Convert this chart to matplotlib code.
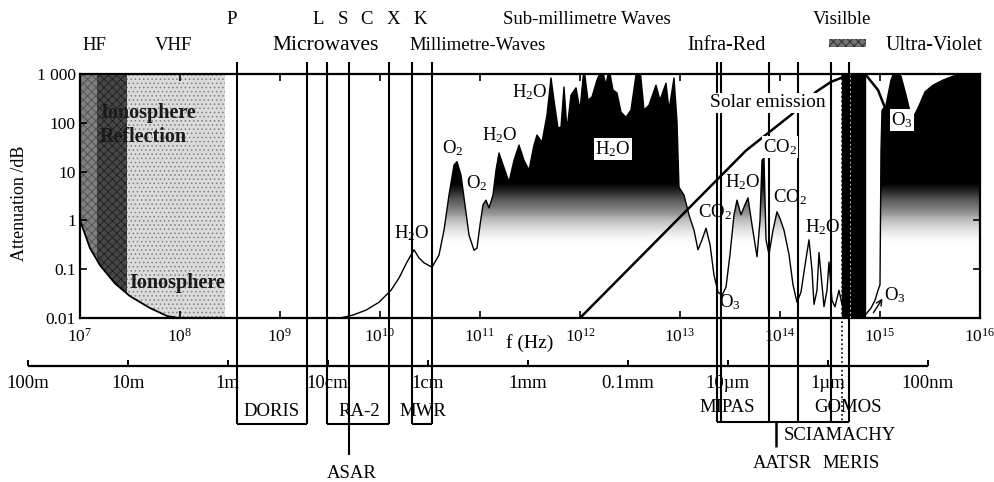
import numpy as np
import matplotlib
matplotlib.use('Agg')
import matplotlib.pyplot as plt
from matplotlib.patches import Polygon

plt.rcParams['font.family'] = 'Liberation Serif'
plt.rcParams['mathtext.fontset'] = 'custom'
plt.rcParams['mathtext.rm'] = 'Liberation Serif'
plt.rcParams['mathtext.it'] = 'Liberation Serif:italic'
plt.rcParams['mathtext.default'] = 'regular'
plt.rcParams['hatch.linewidth'] = 0.6

# atmospheric attenuation, log10(f / Hz) and dB
atm_exp = [9.60, 9.73, 9.86, 9.99, 10.11, 10.19, 10.27, 10.34, 10.39, 10.44, 10.52, 10.59,
           10.64, 10.69, 10.74, 10.77, 10.81, 10.85, 10.89, 10.94, 10.97, 11.00, 11.03, 11.06,
           11.09, 11.13, 11.16, 11.19, 11.23, 11.29, 11.34, 11.39, 11.44, 11.49, 11.54, 11.57,
           11.62, 11.67, 11.71, 11.74, 11.78, 11.81, 11.84, 11.87, 11.91, 11.96, 12.00, 12.04,
           12.08, 12.12, 12.17, 12.22, 12.26, 12.29, 12.33, 12.37, 12.41, 12.46, 12.51, 12.56,
           12.60, 12.64, 12.69, 12.76, 12.80, 12.86, 12.89, 12.94, 12.97, 12.99, 13.04, 13.09,
           13.14, 13.18, 13.22, 13.26, 13.30, 13.34, 13.38, 13.42, 13.46, 13.50, 13.54, 13.57,
           13.61, 13.65, 13.68, 13.72, 13.77, 13.80, 13.82, 13.84, 13.86, 13.89, 13.93, 13.97,
           14.00, 14.04, 14.09, 14.13, 14.17, 14.21, 14.25, 14.29, 14.32, 14.34, 14.37, 14.39,
           14.42, 14.44, 14.47, 14.49, 14.52, 14.55, 14.59, 14.62, 14.66, 14.69, 14.74, 14.80,
           14.86, 14.91, 14.95, 14.98, 15.00, 15.01, 15.02, 15.06, 15.11, 15.15, 15.21, 15.26,
           15.32, 15.38, 15.45, 15.53, 15.63, 15.73, 15.83, 16.00]
atm_db = [0.01, 0.0115, 0.0145, 0.021, 0.037, 0.066, 0.14, 0.25, 0.17, 0.135, 0.11, 0.195,
          0.63, 3.3, 13.6, 16, 8.5, 2.1, 0.5, 0.245, 0.27, 0.8, 2.1, 2.6,
          1.8, 3.3, 10.7, 24, 13.8, 6.1, 17, 35, 17, 10.7, 35, 56,
          40, 145, 830, 290, 78, 82, 540, 71, 370, 520, 183, 1300,
          290, 340, 750, 1300, 590, 1300, 470, 410, 166, 130, 183, 950,
          1300, 183, 230, 590, 290, 650, 183, 830, 105, 4.8, 3.3, 1.3,
          0.63, 0.25, 0.4, 0.69, 0.32, 0.076, 0.034, 0.029, 0.043, 0.2, 1.3, 2.6,
          1.3, 2.1, 2.9, 0.81, 0.18, 1.0, 17, 19, 0.4, 0.2, 0.63, 1.5,
          1.1, 0.63, 0.2, 0.048, 0.021, 0.034, 0.12, 0.4, 0.095, 0.019, 0.037, 0.22,
          0.048, 0.017, 0.037, 0.14, 0.023, 0.017, 0.037, 0.019, 0.023, 0.016, 0.012, 0.011,
          0.012, 0.016, 0.023, 0.037, 0.048, 27, 180, 230, 750, 1200, 900, 370,
          115, 200, 430, 590, 750, 900, 1100, 1100]

# ionospheric attenuation
ion_exp = [7.0, 7.1, 7.2, 7.35, 7.5, 7.7, 7.87, 7.98, 8.45]
ion_db = [1.0, 0.27, 0.12, 0.051, 0.028, 0.016, 0.011, 0.01, 0.01]
ion_band_exp = [7.0, 7.17, 7.47, 8.45]

# solar emission line
sol_exp = [12.0, 13.66, 14.11, 14.36, 14.51, 14.61, 14.76, 14.86, 14.98, 15.06]
sol_db = [0.01, 27, 145, 430, 690, 830, 1200, 950, 470, 180]

# band / instrument limits (log10 f)
band_exp = [8.567, 9.265, 9.465, 9.685, 10.094, 10.324, 10.523,
            13.367, 13.407, 13.886, 14.176, 14.505, 14.685]
visible_exp = [14.62, 14.85]

# wavelength scale (m)
wl_m = [100, 10, 1, 0.1, 0.01, 1e-3, 1e-4, 1e-5, 1e-6, 1e-7]
wl_labels = ['100m', '10m', '1m', '10cm', '1cm', '1mm', '0.1mm', '10µm', '1µm', '100nm']

fig = plt.figure(figsize=(9.95, 4.82), dpi=100)
ax = fig.add_axes([80 / 995, 164 / 482, 900 / 995, 244 / 482])
ax.set_xscale('log')
ax.set_yscale('log')
ax.set_xlim(1e7, 1e16)
ax.set_ylim(0.01, 1000)

# ionosphere region
ion_f = 10.0 ** np.array(ion_exp)
ion_poly = Polygon(np.column_stack([np.r_[ion_f, ion_f[-1], ion_f[0]],
                                    np.r_[ion_db, 1000, 1000]]),
                   closed=True, facecolor='none', edgecolor='none', transform=ax.transData)
ax.add_patch(ion_poly)
ion_styles = [('0.5', 'xxxx', '0.3'), ('0.28', 'xxxx', '0.12'), ('0.86', '....', '0.5')]
for i, (fc, hatch, ec) in enumerate(ion_styles):
    sp = ax.axvspan(10 ** ion_band_exp[i], 10 ** ion_band_exp[i + 1],
                    facecolor=fc, hatch=hatch, edgecolor=ec, lw=0, zorder=1)
    sp.set_clip_path(ion_poly)
ax.plot(ion_f, ion_db, color='k', lw=1.3, zorder=3)

# attenuation with grey shading
f_atm = 10.0 ** np.array(atm_exp)
db_atm = np.array(atm_db)
clip = Polygon(np.column_stack([np.r_[f_atm, f_atm[-1], f_atm[0]],
                                np.r_[db_atm, 0.01, 0.01]]),
               closed=True, facecolor='none', edgecolor='none', transform=ax.transData)
ax.add_patch(clip)
yedges = np.logspace(-2, 3.3, 266)
ymid = np.sqrt(yedges[:-1] * yedges[1:])
shade = np.clip((np.log10(ymid) + 0.45) / 1.2, 0, 1)
mesh = ax.pcolormesh([1e7, 1e16], yedges, shade[:, None], cmap='Greys', vmin=0, vmax=1,
                     shading='flat', zorder=1)
mesh.set_clip_path(clip)
ax.plot(f_atm, db_atm, color='k', lw=1.0, zorder=3)

# visible window
ax.axvspan(10 ** visible_exp[0], 10 ** visible_exp[1], color='k', zorder=3)
ax.axvline(10 ** 14.70, color='w', ls=':', lw=1.2, zorder=4)

# solar emission
ax.plot(10.0 ** np.array(sol_exp), sol_db, color='k', lw=1.8, zorder=4)

ax.set_xticks(10.0 ** np.arange(7, 17))
ax.set_xticklabels(['$10^{%d}$' % k for k in range(7, 17)])
ax.set_yticks([0.01, 0.1, 1, 10, 100, 1000])
ax.set_yticklabels(['0.01', '0.1', '1', '10', '100', '1 000'])
ax.xaxis.set_minor_locator(plt.NullLocator())
ax.yaxis.set_minor_locator(plt.NullLocator())
ax.tick_params(direction='in', length=5, width=1.2, top=True, right=True,
               labelsize=12.5, pad=3)
ax.tick_params(axis='x', pad=7)
for s in ax.spines.values():
    s.set_linewidth(1.6)
ax.set_ylabel('Attenuation /dB', fontsize=13)
ax.yaxis.set_label_coords(-0.058, 0.47)

# overlay: x = frequency, y = pixel row from the top
ov = fig.add_axes([0, 0, 1, 1], facecolor='none')
ov.set_xscale('log')
ov.set_xlim(10 ** 6.2, 10 ** 16.15)
ov.set_ylim(482, 0)
ov.axis('off')

band_f = 10.0 ** np.array(band_exp)
band_bottom = [424, 424, 424, 455, 424, 424, 424, 422, 422, 422, 422, 422, 422]
ov.vlines(band_f, 62, band_bottom, colors='k', lw=1.5, zorder=2)
ov.vlines(10 ** 14.615, 74, 422, colors='k', lw=1.2, linestyles=':', zorder=2)
ov.hlines([424, 424, 424, 422], band_f[[0, 2, 5, 7]], band_f[[1, 4, 6, 12]], colors='k', lw=1.5)
ov.vlines(10 ** 13.956, 422, 447, colors='k', lw=1.8)

# wavelength scale
wl_f = 3e8 / np.array(wl_m)
ov.hlines(366, wl_f[0], wl_f[-1], colors='k', lw=1.6)
ov.vlines(wl_f, 360, 366, colors='k', lw=1.4)
for f, lab in zip(wl_f, wl_labels):
    ov.text(f, 383, lab, ha='center', va='center', fontsize=13.5)

def top(e, y, s, fs=13.5):
    ov.text(10 ** e, y, s, ha='center', va='center', fontsize=fs)

top(7.14, 45, 'HF')
top(7.93, 45, 'VHF')
top(8.52, 20, 'P')
top(9.38, 20, 'L')
top(9.63, 20, 'S')
top(9.87, 20, 'C')
top(10.13, 20, 'X')
top(10.40, 20, 'K')
top(9.46, 45, 'Microwaves', 15.5)
top(10.98, 45, 'Millimetre-Waves')
top(12.07, 20, 'Sub-millimetre Waves')
top(13.47, 45, 'Infra-Red', 14.5)
top(14.62, 20, 'Visilble')
top(15.54, 45, 'Ultra-Violet', 14.5)
ov.fill_between([10 ** 14.49, 10 ** 14.86], 39, 47, facecolor='0.45', hatch='xxxx',
                edgecolor='0.15', lw=0)

top(11.5, 343, 'f (Hz)', 14)
top(8.92, 411, 'DORIS')
top(9.79, 411, 'RA-2')
top(10.43, 411, 'MWR')
top(9.72, 474, 'ASAR')
top(13.47, 408, 'MIPAS')
top(14.68, 408, 'GOMOS')
top(14.60, 436, 'SCIAMACHY')
top(14.02, 463, 'AATSR')
top(14.71, 463, 'MERIS')

# labels inside the plot (frequency, dB)
def lab(e, db, s, fs=13.5, box=False, **kw):
    kw.setdefault('ha', 'center')
    bb = dict(facecolor='white', edgecolor='none', pad=1) if box else None
    ov.text(10 ** e, db, s, transform=ax.transData, va='center', fontsize=fs,
            bbox=bb, zorder=6, **kw)

lab(7.2, 90, 'Ionosphere\nReflection', 14.5, ha='left', color='0.1', fontweight='bold',
    linespacing=1.25)
lab(7.97, 0.052, 'Ionosphere', 14.5, color='0.1', fontweight='bold')
lab(10.32, 0.55, 'H$_2$O')
lab(10.73, 30, 'O$_2$')
lab(10.97, 5.9, 'O$_2$')
lab(11.2, 56, 'H$_2$O')
lab(11.5, 430, 'H$_2$O')
lab(12.33, 29, 'H$_2$O', box=True)
lab(13.88, 255, 'Solar emission', 14, box=True)
lab(14.0, 32, 'CO$_2$', box=True)
lab(13.63, 6.2, 'H$_2$O')
lab(13.35, 1.5, 'CO$_2$')
lab(14.1, 3.0, 'CO$_2$')
lab(13.5, 0.021, 'O$_3$')
lab(14.43, 0.72, 'H$_2$O')
lab(15.15, 0.03, 'O$_3$')
lab(15.22, 115, 'O$_3$', box=True)
ov.annotate('', xy=(10 ** 15.04, 0.028), xytext=(10 ** 14.92, 0.0115),
            xycoords=ax.transData, textcoords=ax.transData,
            arrowprops=dict(arrowstyle='->', lw=1.0, color='k'))

fig.savefig('out.png', dpi=100)
